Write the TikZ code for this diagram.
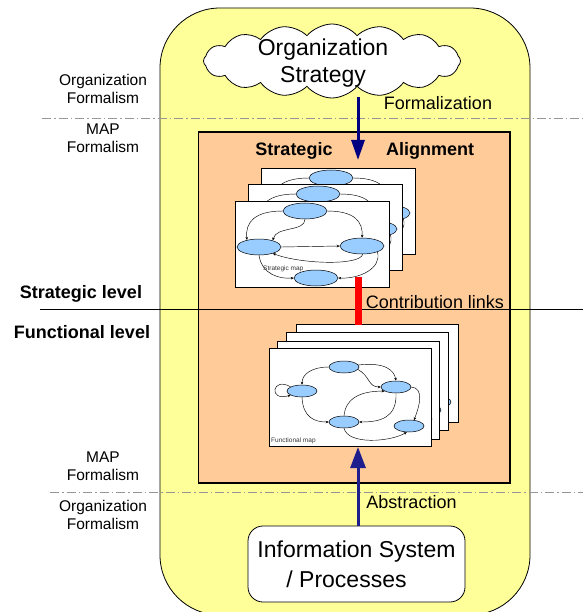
\documentclass[tikz,border=0pt]{standalone}
\usepackage{fontspec}
\setmainfont{Liberation Sans}
\usetikzlibrary{arrows.meta,shapes.symbols,shapes.geometric}
\definecolor{ybg}{HTML}{FFFF99}
\definecolor{obox}{HTML}{FFCC99}
\definecolor{lblue}{HTML}{99CCFF}
\definecolor{navyb}{RGB}{0,0,128}
\definecolor{navyc}{RGB}{30,30,140}
\definecolor{dashgray}{RGB}{150,150,150}
\tikzset{
  sheet/.style={draw=black, fill=white, line width=0.8pt},
  sell/.style={ellipse, draw=black, fill=lblue, line width=0.5pt, minimum width=44pt, minimum height=16pt, inner sep=0pt},
  fell/.style={ellipse, draw=black, fill=lblue, line width=0.5pt, minimum width=30pt, minimum height=12pt, inner sep=0pt},
  ed/.style={draw=black, line width=0.45pt, -{Stealth[length=3pt,width=2.6pt]}},
  side/.style={align=center, font=\fontsize{15.5}{18}\selectfont, inner sep=0pt},
  lvl/.style={font=\fontsize{18}{21}\selectfont\bfseries, inner sep=0pt},
  lab/.style={font=\fontsize{18}{21}\selectfont, inner sep=0pt},
  tinylab/.style={font=\fontsize{6.5}{7}\selectfont, text=black!80, inner sep=0pt, anchor=west},
  dashsep/.style={draw=dashgray, line width=0.8pt, dash pattern=on 9pt off 3pt on 1.5pt off 3pt},
}
\newcommand\mystratgraph{%
  \draw[sheet] (235,201) rectangle (389,287);
  \node[sell] (sT) at (305,211) {};
  \node[sell] (sL) at (259,247) {};
  \node[sell] (sR) at (362,246) {};
  \node[sell] (sB) at (316,278) {};
  \draw[ed] (sT.180) .. controls (255,211) and (245,222) .. (sL.150);
  \draw[ed] (sT.0) .. controls (355,211) and (363,222) .. (sR.90);
  \draw[ed] (sT.270) .. controls (305,232) and (276,226) .. (sL.25);
  \draw[ed] (sL.0) -- (sR.180);
  \draw[ed] (sR.-85) .. controls (360,266) and (300,264) .. (sL.-25);
  \draw[ed] (sL.-90) .. controls (262,275) and (280,279) .. (sB.180);
  \draw[ed] (sR.-21) .. controls (382,268) and (360,279) .. (sB.0);
  \node[tinylab] (slab) at (263,269) {Strategic map};
}
\newcommand\myfuncgraph{%
  \draw[sheet] (269,348) rectangle (431,446);
  \node[fell] (fA) at (344,367) {};
  \node[fell] (fB) at (302,391) {};
  \node[fell] (fC) at (396,387) {};
  \node[fell] (fD) at (344,422) {};
  \node[fell] (fE) at (409,426) {};
  \draw[ed] (fA.180) .. controls (312,367) and (302,374) .. (fB.90);
  \draw[ed] (fA.8) .. controls (385,362) and (394,370) .. (fC.90);
  \draw[ed] (fA.-10) .. controls (370,376) and (368,387) .. (fC.180);
  \draw[ed] (fB.160) .. controls (272,376) and (268,402) .. (fB.200);
  \draw[ed] (fB.-90) .. controls (303,418) and (315,422) .. (fD.180);
  \draw[ed] (fC.-90) .. controls (397,418) and (380,422) .. (fD.0);
  \draw[ed] (fD.90) .. controls (346,395) and (366,391) .. (fC.200);
  \draw[ed] (fC.0) .. controls (424,388) and (420,405) .. (fE.50);
  \draw[ed] (fD.-90) .. controls (348,445) and (390,442) .. (fE.250);
  \node[tinylab] (flab) at (271,441) {Functional map};
}
\begin{document}
\begin{tikzpicture}[x=1pt,y=-1pt]
\useasboundingbox (0,0) rectangle (583,612);
% yellow background
\draw[fill=ybg, line width=0.8pt, rounded corners=60pt] (160,8) rectangle (530,615);
% separators
\coordinate (d1a) at (42,118); \coordinate (d1b) at (583,118);
\coordinate (d2a) at (50,492); \coordinate (d2b) at (583,492);
\draw[dashsep] (d1a) -- (d1b);
\draw[dashsep] (d2a) -- (d2b);
% orange box
\draw[fill=obox, line width=1.2pt] (198.5,132) rectangle (510,483);
% strategic stack
\begin{scope}[shift={(26,-33)}]\mystratgraph\end{scope}
\begin{scope}[shift={(13,-17)}]\mystratgraph\end{scope}
\mystratgraph
% functional stack
\begin{scope}[shift={(27,-24)}]\myfuncgraph\end{scope}
\begin{scope}[shift={(17,-16)}]\myfuncgraph\end{scope}
\begin{scope}[shift={(8,-7)}]\myfuncgraph\end{scope}
\myfuncgraph
% level line
\coordinate (l1a) at (40,309); \coordinate (l1b) at (583,309);
\draw[line width=0.8pt] (l1a) -- (l1b);
% cloud
\node[cloud, draw=black, fill=white, line width=0.8pt, cloud puffs=16, cloud puff arc=100, aspect=3.6, minimum width=257pt, minimum height=74pt, inner sep=0pt] (cloud) at (332,61) {};
\node[align=center, font=\fontsize{23}{27}\selectfont, inner sep=0pt] (ostrat) at (323,63) {Organization\\Strategy};
% arrows
\coordinate (fa) at (358,97); \coordinate (fb) at (358,160);
\draw[line width=3pt, navyb, -{Triangle[length=20pt,width=13pt]}] (fa) -- (fb);
\coordinate (ra) at (358,277); \coordinate (rb) at (358,325);
\draw[line width=7pt, red] (ra) -- (rb);
% info box
\node[draw=black, fill=white, line width=0.8pt, rounded corners=15pt, minimum width=217pt, minimum height=76pt, align=center, font=\fontsize{23}{30}\selectfont] (isp) at (356.5,564) {Information System\\ / Processes\hspace*{20pt}};
\coordinate (ua) at (358,447);
\draw[line width=3pt, navyc, {Triangle[length=21pt,width=15pt]}-] (ua) -- (isp.north -| ua);
% labels
\node[side] (of1) at (103,89) {Organization\\Formalism};
\node[side] (mf1) at (103,138) {MAP\\Formalism};
\node[side] (mf2) at (103,466) {MAP\\Formalism};
\node[side] (of2) at (103,515) {Organization\\Formalism};
\node[lvl] (slev) at (81,294) {Strategic level};
\node[lvl] (flev) at (82,332) {Functional level};
\node[lvl] (salg1) at (294,151) {Strategic};
\node[lvl] (salg2) at (430,151) {Alignment};
\node[lab] (form) at (438,103) {Formalization};
\node[lab] (contr) at (435,302) {Contribution links};
\node[lab] (abst) at (411.5,502) {Abstraction};
\end{tikzpicture}
\end{document}
